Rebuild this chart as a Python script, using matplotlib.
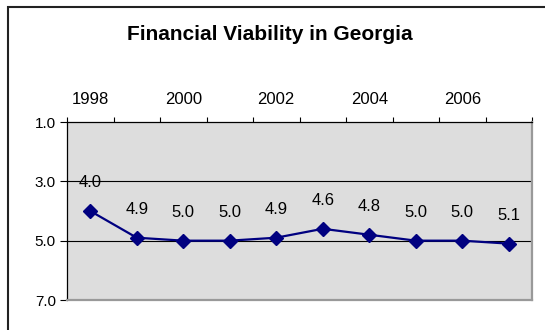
import matplotlib

matplotlib.use("Agg")

import matplotlib.pyplot as plt
import numpy as np
from matplotlib.patches import Rectangle
from matplotlib.ticker import FixedLocator, FixedFormatter

# Financial viability scores (lower is better, axis inverted)
years = [1998, 1999, 2000, 2001, 2002, 2003, 2004, 2005, 2006, 2007]
scores = [4.0, 4.9, 5.0, 5.0, 4.9, 4.6, 4.8, 5.0, 5.0, 5.1]
year_labels = ["1998", "", "2000", "", "2002", "", "2004", "", "2006", ""]
y_ticks = [1.0, 3.0, 5.0, 7.0]

plt.rcParams["font.family"] = ["Liberation Sans", "DejaVu Sans"]

fig = plt.figure(figsize=(5.45, 3.3), dpi=100)
fig.patch.set_facecolor("white")

# outer chart border (runs off the right and bottom of the image)
fig.patches.append(Rectangle((8 / 545, -0.1), 1.2, 1 - 7 / 330 + 0.1,
                             transform=fig.transFigure, fill=False,
                             edgecolor="#222222", linewidth=1.5, clip_on=False))

ax = fig.add_axes([67 / 545, 1 - 300 / 330, 465 / 545, 178 / 330])
ax.set_facecolor("#DDDDDD")

x = np.arange(len(years))
ax.plot(x, scores, color="#000080", linewidth=1.6, marker="D",
        markersize=7, markerfacecolor="#000080", markeredgecolor="#000080")

for xi, v in zip(x, scores):
    ax.annotate(f"{v:.1f}", (xi, v), xytext=(0, 17), textcoords="offset points",
                ha="center", va="baseline", fontsize=12, color="black")

ax.set_xlim(-0.5, len(years) - 0.5)
ax.set_ylim(7.0, 1.0)

ax.xaxis.set_ticks_position("top")
ax.xaxis.set_major_locator(FixedLocator(np.arange(-0.5, len(years), 1.0)))
ax.xaxis.set_major_formatter(FixedFormatter([""] * (len(years) + 1)))
ax.xaxis.set_minor_locator(FixedLocator(x))
ax.xaxis.set_minor_formatter(FixedFormatter(year_labels))
ax.tick_params(axis="x", which="major", direction="out", length=3.5, width=0.8,
               color="black", top=True, bottom=False)
ax.tick_params(axis="x", which="minor", length=0, pad=11, labelsize=12,
               top=True, bottom=False, labeltop=True, labelbottom=False)

ax.set_yticks(y_ticks)
ax.set_yticklabels([f"{t:.1f}" for t in y_ticks])
ax.tick_params(axis="y", direction="out", length=5, width=0.8, labelsize=11, pad=3)

for t in [3.0, 5.0]:
    ax.axhline(t, color="black", linewidth=0.8, zorder=1)

ax.spines["top"].set_color("black")
ax.spines["left"].set_color("black")
ax.spines["top"].set_linewidth(0.9)
ax.spines["left"].set_linewidth(0.9)
ax.spines["right"].set_color("#999999")
ax.spines["bottom"].set_color("#999999")
ax.spines["right"].set_linewidth(1.6)
ax.spines["bottom"].set_linewidth(1.6)

fig.text(270 / 545, 1 - 34 / 330, "Financial Viability in Georgia",
         ha="center", va="center", fontsize=15, fontweight="bold")

fig.savefig("out.png", dpi=100)
